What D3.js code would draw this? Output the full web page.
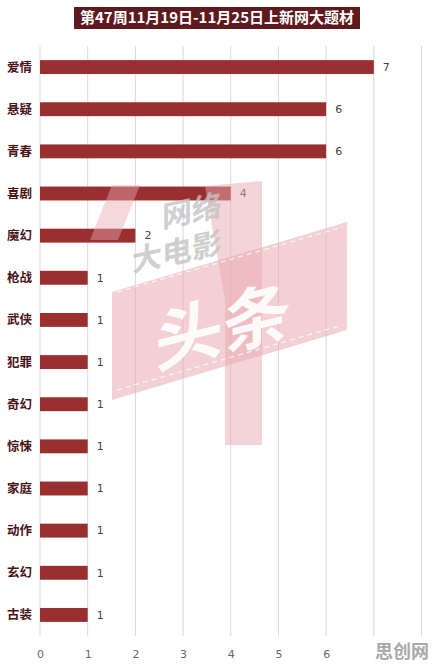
<!DOCTYPE html>
<html><head><meta charset="utf-8">
<script src="https://cdn.jsdelivr.net/npm/d3@7"></script>
<style>body{margin:0;background:#fff}svg{display:block}</style>
</head><body>
<svg id="c" width="435" height="667"></svg>
<script>
const title = "第47周11月19日-11月25日上新网大题材";
const categories = ["爱情","悬疑","青春","喜剧","魔幻","枪战","武侠","犯罪","奇幻","惊悚","家庭","动作","玄幻","古装"];
const values = [7,6,6,4,2,1,1,1,1,1,1,1,1,1];
const xTicks = [0,1,2,3,4,5,6,7,8];
const xTickLabels = ["0","1","2","3","4","5","6","",""];

const svg = d3.select("#c");
const font = "'Noto Sans CJK SC','Microsoft YaHei',sans-serif";

const x = d3.scaleLinear().domain([0,8]).range([40,421.5]);
const y = d3.scaleBand().domain(categories).range([46,636]).paddingInner(0.67).paddingOuter(0.335);

// gridlines
svg.append("g").selectAll("line").data(xTicks).join("line")
  .attr("x1",d=>x(d)).attr("x2",d=>x(d)).attr("y1",46).attr("y2",636)
  .attr("stroke","#d9d9d9").attr("stroke-width",1);

// tick labels
const xa = svg.append("g").attr("transform","translate(0,640)")
  .call(d3.axisBottom(x).tickValues(xTicks).tickFormat((d,i)=>xTickLabels[i]).tickSize(0).tickPadding(10));
xa.select(".domain").remove();
xa.selectAll("text").attr("fill","#666").attr("font-size",11).attr("font-family","'DejaVu Sans',sans-serif");

// bars
svg.append("g").selectAll("rect").data(values).join("rect")
  .attr("x",x(0)).attr("y",(d,i)=>y(categories[i]))
  .attr("width",d=>x(d)-x(0)).attr("height",y.bandwidth())
  .attr("fill","#9a2f30");

// value labels
svg.append("g").selectAll("text").data(values).join("text")
  .attr("x",d=>x(d)+9).attr("y",(d,i)=>y(categories[i])+y.bandwidth()/2)
  .attr("dy","0.35em").attr("fill","#444").attr("font-size",11)
  .attr("font-family","'DejaVu Sans',sans-serif").text(d=>d);

// category labels
svg.append("g").selectAll("text").data(categories).join("text")
  .attr("x",32).attr("y",d=>y(d)+y.bandwidth()/2).attr("dy","0.36em")
  .attr("text-anchor","end").attr("fill","#4a1419").attr("font-weight","bold")
  .attr("font-size",12.5).attr("font-family",font).text(d=>d);

// watermark logo
const wm = svg.append("g").attr("pointer-events","none");
wm.append("polygon").attr("points","90,240 112,185 140,185 118,240").attr("fill","#e7a9b1").attr("opacity",0.45);
wm.append("polygon").attr("points","205,186 262,181 262,445 225,445 225,300").attr("fill","#e7a9b1").attr("opacity",0.5);
wm.append("polygon").attr("points","112,292 347,222 347,330 112,400").attr("fill","#e7a9b1").attr("opacity",0.55);
wm.append("line").attr("x1",117).attr("y1",292).attr("x2",343).attr("y2",227).attr("stroke","#fff").attr("stroke-width",1.2).attr("stroke-dasharray","5,4").attr("opacity",0.8);
wm.append("line").attr("x1",117).attr("y1",390).attr("x2",343).attr("y2",325).attr("stroke","#fff").attr("stroke-width",1.2).attr("stroke-dasharray","5,4").attr("opacity",0.8);
wm.append("text").attr("transform","translate(162,228) skewY(-12)").attr("font-size",30).attr("font-weight","bold")
  .attr("fill","#c4c4c4").attr("opacity",0.8).attr("font-family",font).text("网络");
wm.append("text").attr("transform","translate(132,272) skewY(-12)").attr("font-size",30).attr("font-weight","bold")
  .attr("fill","#c4c4c4").attr("opacity",0.8).attr("font-family",font).text("大电影");
wm.append("text").attr("transform","translate(155,368) skewY(-14)").attr("font-size",68).attr("font-weight","bold")
  .attr("fill","#fff").attr("opacity",0.9).attr("font-family",font).text("头条");

// title
svg.append("rect").attr("x",74).attr("y",7).attr("width",286).attr("height",22).attr("fill","#5e1a1f");
svg.append("text").attr("x",217).attr("y",18).attr("dy","0.36em").attr("text-anchor","middle")
  .attr("fill","#fff").attr("font-weight","bold").attr("font-size",15).attr("font-family",font).text(title);

// corner watermark
svg.append("text").attr("x",429).attr("y",652).attr("dy","0.36em").attr("text-anchor","end")
  .attr("fill","#a9a9a9").attr("font-weight","bold").attr("font-size",18).attr("font-family",font).text("思创网");
</script>
</body></html>
